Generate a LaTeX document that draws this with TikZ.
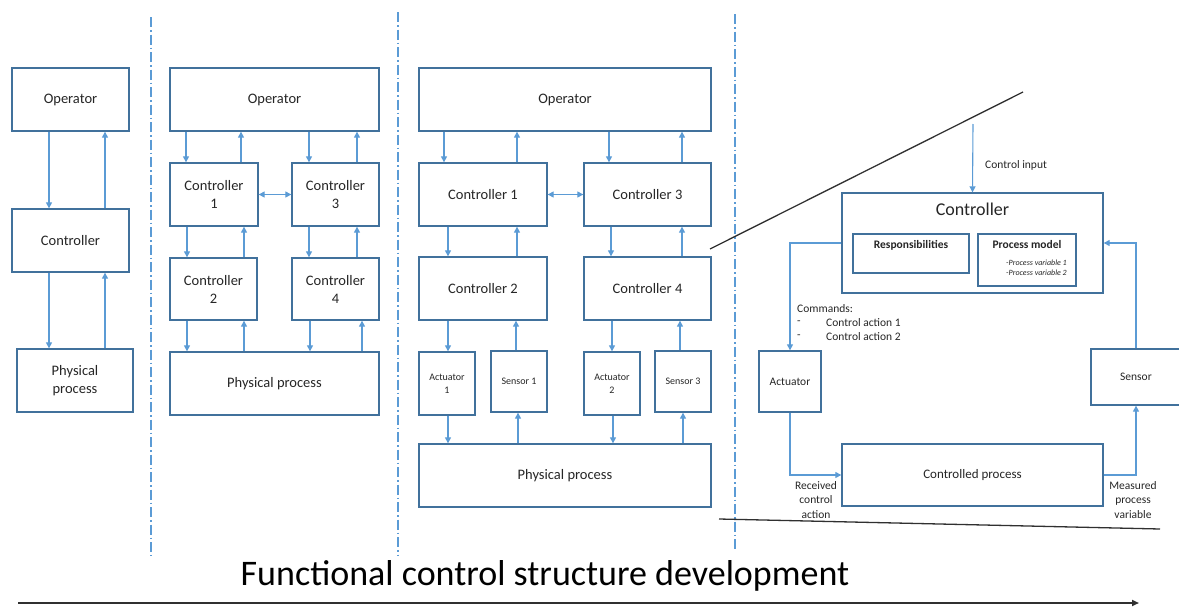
\documentclass[tikz,border=0pt]{standalone}
\usepackage{fontspec}
\setmainfont{Carlito}
\usetikzlibrary{arrows.meta}
\definecolor{boxc}{HTML}{41719C}
\definecolor{arrc}{HTML}{5B9BD5}
\definecolor{txt}{HTML}{262626}
\definecolor{rule}{HTML}{303030}
\tikzset{
  blk/.style={draw=boxc, line width=1.3pt, fill=white, inner sep=0pt, text=txt,
    align=center, font=\fontsize{14.5}{18}\selectfont},
  small/.style={font=\fontsize{10}{13}\selectfont},
  lbl/.style={text=txt, inner sep=0pt, font=\fontsize{11.5}{14.5}\selectfont},
  flow/.style={draw=arrc, line width=1.1pt, -{Triangle[length=6pt,width=6pt]}},
  bothflow/.style={draw=arrc, line width=1.1pt, {Triangle[length=6pt,width=6pt]}-{Triangle[length=6pt,width=6pt]}},
  sep/.style={draw=arrc, line width=1.2pt, dash pattern=on 10pt off 3pt on 1.5pt off 3pt},
  frame/.style={draw=rule, line width=1.3pt},
}
\begin{document}
\begin{tikzpicture}[x=1pt, y=-1pt]
\useasboundingbox (0,0) rectangle (1179,608);

% ---------- panel separators ----------
\draw[sep] (151,17) -- (151,556);
\draw[sep] (398,12) -- (398,556);
\draw[sep] (735,14) -- (735,552);

% ---------- stage 1: single loop ----------
\node[blk, minimum width=117, minimum height=63] (op1) at (70.5,99.5) {Operator};
\node[blk, minimum width=117, minimum height=63] (ct1) at (70.5,240.5) {Controller};
\node[blk, minimum width=116, minimum height=63] (pp1) at (75,380.5) {Physical\\process};
\coordinate (p1d) at (49,0);
\coordinate (p1u) at (105,0);
\draw[flow] (op1.south -| p1d) -- (ct1.north -| p1d);
\draw[flow] (ct1.north -| p1u) -- (op1.south -| p1u);
\draw[flow] (ct1.south -| p1d) -- (pp1.north -| p1d);
\draw[flow] (pp1.north -| p1u) -- (ct1.south -| p1u);

% ---------- stage 2: four controllers ----------
\node[blk, minimum width=209, minimum height=63] (op2) at (274.5,99.5) {Operator};
\node[blk, minimum width=88, minimum height=63] (c21) at (214,194.5) {Controller\\1};
\node[blk, minimum width=87, minimum height=63] (c23) at (335.5,194.5) {Controller\\3};
\node[blk, minimum width=87, minimum height=62] (c22) at (213.5,289) {Controller\\2};
\node[blk, minimum width=87, minimum height=62] (c24) at (335.5,289) {Controller\\4};
\node[blk, minimum width=209, minimum height=63] (pp2) at (274.5,383.5) {Physical process};
\coordinate (a186) at (186,0); \coordinate (a187) at (187,0);
\coordinate (a241) at (241,0); \coordinate (a244) at (244,0);
\coordinate (a309) at (309,0); \coordinate (a310) at (310,0);
\coordinate (a357) at (357,0); \coordinate (a362) at (362,0);
\draw[flow] (op2.south -| a186) -- (c21.north -| a186);
\draw[flow] (c21.north -| a241) -- (op2.south -| a241);
\draw[flow] (op2.south -| a309) -- (c23.north -| a309);
\draw[flow] (c23.north -| a357) -- (op2.south -| a357);
\draw[bothflow] (c21.east) -- (c23.west);
\draw[flow] (c21.south -| a187) -- (c22.north -| a187);
\draw[flow] (c22.north -| a244) -- (c21.south -| a244);
\draw[flow] (c23.south -| a309) -- (c24.north -| a309);
\draw[flow] (c24.north -| a357) -- (c23.south -| a357);
\draw[flow] (c22.south -| a187) -- (pp2.north -| a187);
\draw[flow] (pp2.north -| a244) -- (c22.south -| a244);
\draw[flow] (c24.south -| a310) -- (pp2.north -| a310);
\draw[flow] (pp2.north -| a362) -- (c24.south -| a362);

% ---------- stage 3: actuators and sensors ----------
\node[blk, minimum width=292, minimum height=63] (op3) at (565,99.5) {Operator};
\node[blk, minimum width=128, minimum height=63] (c31) at (483,194.5) {Controller 1};
\node[blk, minimum width=127, minimum height=63] (c33) at (647.5,194.5) {Controller 3};
\node[blk, minimum width=128, minimum height=63] (c32) at (483,288.5) {Controller 2};
\node[blk, minimum width=127, minimum height=63] (c34) at (647.5,288.5) {Controller 4};
\node[blk, small, minimum width=56, minimum height=63] (a31) at (447,383.5) {Actuator\\1};
\node[blk, small, minimum width=56, minimum height=61] (s31) at (519,381.5) {Sensor 1};
\node[blk, small, minimum width=56, minimum height=63] (a32) at (612,383.5) {Actuator\\2};
\node[blk, small, minimum width=56, minimum height=61] (s33) at (683,381.5) {Sensor 3};
\node[blk, minimum width=292, minimum height=63] (pp3) at (565,475.5) {Physical process};
\coordinate (b444) at (444,0); \coordinate (b448) at (448,0);
\coordinate (b516) at (516,0); \coordinate (b517) at (517,0); \coordinate (b518) at (518,0);
\coordinate (b609) at (609,0); \coordinate (b611) at (611,0);
\coordinate (b612) at (612,0); \coordinate (b613) at (613,0);
\coordinate (b680) at (680,0); \coordinate (b682) at (682,0); \coordinate (b683) at (683,0);
\draw[flow] (op3.south -| b444) -- (c31.north -| b444);
\draw[flow] (c31.north -| b517) -- (op3.south -| b517);
\draw[flow] (op3.south -| b609) -- (c33.north -| b609);
\draw[flow] (c33.north -| b682) -- (op3.south -| b682);
\draw[bothflow] (c31.east) -- (c33.west);
\draw[flow] (c31.south -| b448) -- (c32.north -| b448);
\draw[flow] (c32.north -| b517) -- (c31.south -| b517);
\draw[flow] (c33.south -| b611) -- (c34.north -| b611);
\draw[flow] (c34.north -| b682) -- (c33.south -| b682);
\draw[flow] (c32.south -| b448) -- (a31.north -| b448);
\draw[flow] (s31.north -| b516) -- (c32.south -| b516);
\draw[flow] (c34.south -| b612) -- (a32.north -| b612);
\draw[flow] (s33.north -| b680) -- (c34.south -| b680);
\draw[flow] (a31.south -| b448) -- (pp3.north -| b448);
\draw[flow] (pp3.north -| b518) -- (s31.south -| b518);
\draw[flow] (a32.south -| b613) -- (pp3.north -| b613);
\draw[flow] (pp3.north -| b683) -- (s33.south -| b683);

% ---------- stage 4: detailed control loop ----------
\draw[frame] (710,249) -- (1023,92);
\draw[frame] (719,519) -- (1160,529);

\node[blk, minimum width=261, minimum height=100] (ctl) at (972.5,243) {};
\node[text=txt, inner sep=0pt, font=\fontsize{18}{20}\selectfont] (ctltitle) at (972.5,209) {Controller};
\node[blk, minimum width=116, minimum height=39] (resp) at (911,253.5) {};
\node[lbl, font=\bfseries\fontsize{11.5}{14}\selectfont] (resptitle) at (911,245) {Responsibilities};
\node[blk, minimum width=98, minimum height=52] (pm) at (1027,260) {};
\node[lbl, font=\bfseries\fontsize{11.5}{14}\selectfont] (pmtitle) at (1027,245) {Process model};
\node[lbl, anchor=east, align=right, font=\itshape\fontsize{8}{10}\selectfont] (pmvars) at (1067,268)
  {-Process variable 1\\-Process variable 2};

\node[blk, lbl, draw=boxc, minimum width=62, minimum height=61] (act) at (790,381.5) {Actuator};
\node[blk, lbl, draw=boxc, minimum width=90, minimum height=56] (sen) at (1136,377) {Sensor};
\node[blk, draw=boxc, font=\fontsize{13}{16}\selectfont, minimum width=261, minimum height=62] (cp) at (972.5,475) {Controlled process};

\coordinate (cin) at (973,124);
\draw[flow] (cin) -- (ctl.north);
\node[lbl, anchor=west] (cinlbl) at (985,165) {Control input};

\draw[flow] (ctl.west) -| (act.north);
\draw[flow] (sen.north) |- (ctl.east);
\draw[flow] (act.south) |- (cp.west);
\draw[flow] (cp.east) -| (sen.south);

\node[lbl, anchor=west] (cmd) at (797,309) {Commands:};
\node[lbl, anchor=west] (cmd1d) at (797,323) {-};
\node[lbl, anchor=west] (cmd1) at (826,323) {Control action 1};
\node[lbl, anchor=west] (cmd2d) at (797,337) {-};
\node[lbl, anchor=west] (cmd2) at (826,337) {Control action 2};
\node[lbl, align=center] (rca) at (816,500) {Received\\control\\action};
\node[lbl, align=center] (mpv) at (1133,500) {Measured\\process\\variable};

% ---------- development axis ----------
\node[anchor=base, inner sep=0pt, text=black, font=\fontsize{36}{40}\selectfont] (title) at (545,585)
  {Functional control structure development};
\coordinate (axs) at (18,603);
\coordinate (axe) at (1139,603);
\draw[draw=rule, line width=1.8pt, -{Triangle[length=7pt,width=6pt]}] (axs) -- (axe);
\end{tikzpicture}
\end{document}
